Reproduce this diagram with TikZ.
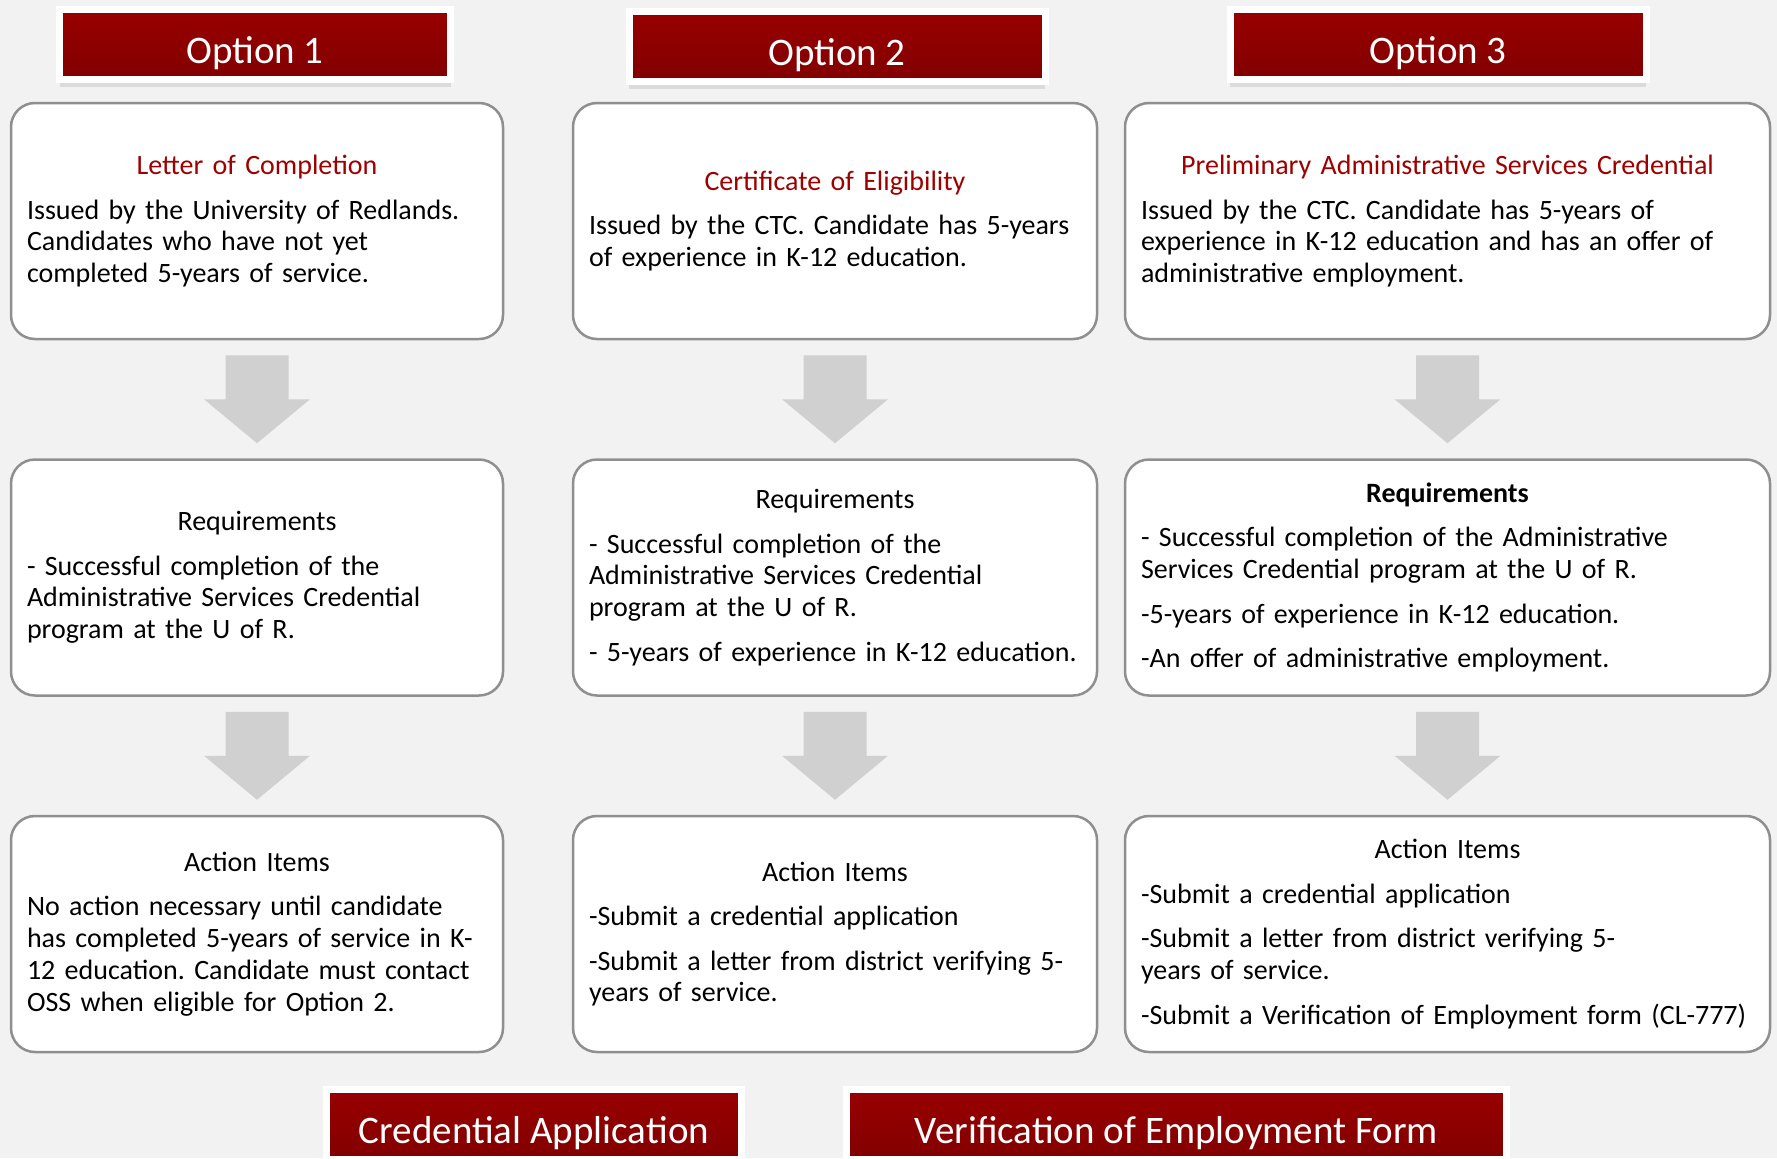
\documentclass[tikz,border=0pt]{standalone}
\usepackage{fontspec}
\setmainfont{Carlito}
\usepackage{xcolor}
\usepackage{tikz}
\usetikzlibrary{positioning, calc, shadows}

\definecolor{bggray}{HTML}{F2F2F2}
\definecolor{boxgray}{HTML}{8F8F8F}
\definecolor{arrowgray}{HTML}{D0D0D0}
\definecolor{hdrtop}{HTML}{980000}
\definecolor{hdrbot}{HTML}{820000}
\definecolor{titlered}{HTML}{9E0000}

\newcommand{\boxhead}[2][black]{{\centering\color{#1}#2\par}}

\begin{document}
\begin{tikzpicture}[
    x=0.5pt, y=-0.5pt,
    optbox/.style={rectangle, draw=white, line width=3.5pt, top color=hdrtop, bottom color=hdrbot,
        text=white, inner sep=0pt, minimum height=35pt, text height=19pt, text depth=0pt,
        font=\fontsize{19.5pt}{23pt}\selectfont,
        drop shadow={opacity=0.2, shadow xshift=0pt, shadow yshift=-3.5pt}},
    infobox/.style={rectangle, draw=boxgray, line width=1.25pt, fill=white, rounded corners=12pt,
        text width=#1, inner xsep=8pt, inner ysep=4pt, minimum height=118pt, align=left,
        font=\fontsize{14pt}{15.85pt}\selectfont,
        execute at begin node={\setlength{\parskip}{6.4pt}\setlength{\parindent}{0pt}%
            \frenchspacing\hyphenpenalty=10000\exhyphenpenalty=10000}},
    blockdown/.pic={\fill[arrowgray] (-15.75pt,22pt) -- (15.75pt,22pt) -- (15.75pt,0pt) -- (26.5pt,0pt)
        -- (0pt,-22pt) -- (-26.5pt,0pt) -- (-15.75pt,0pt) -- cycle;}
]
    \fill[bggray, use as bounding box] (0,0) rectangle (1777,1158);

    % option headers
    \node[optbox, minimum width=195.5pt] (opt1) at (255,44.5) {Option 1};
    \node[optbox, minimum width=208pt] (opt2) at (837,46.5) {Option 2};
    \node[optbox, minimum width=208pt] (opt3) at (1438,44.5) {Option 3};

    % column 1
    \node[infobox=230pt] (loc) at (257,221) {\boxhead[titlered]{Letter of Completion}
        Issued by the University of Redlands.\\ Candidates who have not yet\\ completed 5-years of service.};
    \node[infobox=230pt, below=59pt of loc] (req1) {\boxhead{Requirements}
        - Successful completion of the\\ Administrative Services Credential\\ program at the U of R.};
    \node[infobox=230pt, below=59pt of req1] (act1) {\boxhead{Action Items}
        No action necessary until candidate\\ has completed 5-years of service in K-\\ 12 education. Candidate must contact\\ OSS when eligible for Option 2.};

    % column 2
    \node[infobox=246pt] (coe) at (835,221) {\boxhead[titlered]{Certificate of Eligibility}
        Issued by the CTC. Candidate has 5-years\\ of experience in K-12 education.};
    \node[infobox=246pt, below=59pt of coe] (req2) {\boxhead{Requirements}
        - Successful completion of the\\ Administrative Services Credential\\ program at the U of R.\par
        - 5-years of experience in K-12 education.};
    \node[infobox=246pt, below=59pt of req2] (act2) {\boxhead{Action Items}
        -Submit a credential application\par
        -Submit a letter from district verifying 5-\\ years of service.};

    % column 3
    \node[infobox=306.5pt] (pasc) at (1447.5,221) {\boxhead[titlered]{Preliminary Administrative Services Credential}
        Issued by the CTC. Candidate has 5-years of\\ experience in K-12 education and has an offer of\\ administrative employment.};
    \node[infobox=306.5pt, below=59pt of pasc] (req3) {\boxhead{\textbf{Requirements}}
        - Successful completion of the Administrative\\ Services Credential program at the U of R.\par
        -5-years of experience in K-12 education.\par
        -An offer of administrative employment.};
    \node[infobox=306.5pt, below=59pt of req3] (act3) {\boxhead{Action Items}
        -Submit a credential application\par
        -Submit a letter from district verifying 5-\\ years of service.\par
        \mbox{-Submit a Verification of Employment form (CL-777)}};

    % block arrows between the boxes
    \foreach \src/\dst in {loc/req1, req1/act1, coe/req2, req2/act2, pasc/req3, req3/act3} {
        \path (\src.south) -- (\dst.north) coordinate[midway] (m-\src);
        \pic at (m-\src) {blockdown};
    }

    % links at the bottom
    \node[optbox, minimum width=207.5pt] (credapp) at (534,1124.5) {Credential Application};
    \node[optbox, minimum width=330pt] (voe) at (1176.5,1124.5) {Verification of Employment Form};
\end{tikzpicture}
\end{document}
